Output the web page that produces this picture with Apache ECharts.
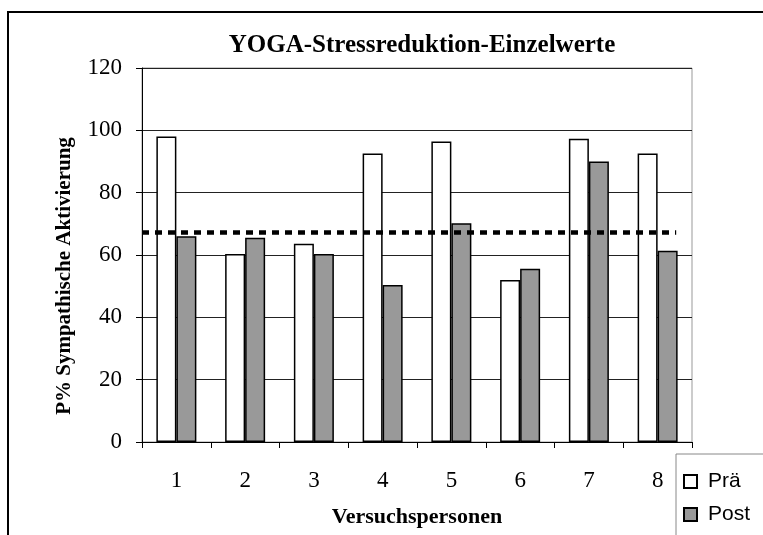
<!DOCTYPE html>
<html>
<head>
<meta charset="utf-8">
<script src="https://cdn.jsdelivr.net/npm/echarts@6/dist/echarts.min.js"></script>
<style>
  html, body { margin: 0; padding: 0; background: #fff; }
  #chart { width: 763px; height: 535px; }
</style>
</head>
<body>
<div id="chart"></div>
<script>
// Versuchspersonen 1..8
const categories = ['1', '2', '3', '4', '5', '6', '7', '8']
const praeValues = [98, 60.3, 63.6, 92.6, 96.4, 52, 97.3, 92.6]
const postValues = [66, 65.5, 60.3, 50.4, 70.2, 55.6, 90, 61.4]
// gestrichelte Referenzlinie (Start/Ende auf der Kategorie-Skala 0..8)
const refLevel = 67.2
const refStart = 0
const refEnd = 7.77
const yTicks = [0, 20, 40, 60, 80, 100, 120]

const serif = 'Liberation Serif'
const sans = 'Liberation Sans'

const chart = echarts.init(document.getElementById('chart'))

chart.setOption({
  animation: false,
  backgroundColor: '#fff',
  title: {
    text: 'YOGA-Stressreduktion-Einzelwerte',
    left: 417,
    top: 28,
    textAlign: 'center',
    textStyle: { fontFamily: serif, fontWeight: 'bold', fontSize: 25, color: '#000' }
  },
  graphic: [
    {
      type: 'rect',
      z: -1,
      shape: { x: 8, y: 12, width: 800, height: 600 },
      style: { fill: 'none', stroke: '#000', lineWidth: 2 }
    },
    {
      // Legendenrahmen
      type: 'rect',
      z: -1,
      shape: { x: 676, y: 454, width: 200, height: 200 },
      style: { fill: '#fff', stroke: '#888', lineWidth: 1 }
    },
    {
      type: 'text',
      x: 65,
      y: 276,
      rotation: Math.PI / 2,
      style: {
        text: 'P% Sympathische Aktivierung',
        fontFamily: serif,
        fontWeight: 'bold',
        fontSize: 21,
        fill: '#000',
        align: 'center',
        verticalAlign: 'middle'
      }
    }
  ],
  legend: {
    data: ['Prä', 'Post'],
    orient: 'vertical',
    left: 683,
    top: 471,
    padding: 0,
    itemGap: 12,
    itemWidth: 13,
    itemHeight: 13,
    icon: 'rect',
    textStyle: { fontFamily: sans, fontSize: 21, color: '#000', padding: [0, 0, 0, 6] }
  },
  grid: {
    left: 142,
    right: 71,
    top: 68,
    bottom: 93,
    show: true,
    borderColor: '#999',
    borderWidth: 1
  },
  xAxis: [
    {
      type: 'category',
      data: categories,
      name: 'Versuchspersonen',
      nameLocation: 'middle',
      nameGap: 64,
      nameTextStyle: { fontFamily: serif, fontWeight: 'bold', fontSize: 22, color: '#000' },
      axisLine: { lineStyle: { color: '#000', width: 1 } },
      axisTick: { show: true, length: 6, lineStyle: { color: '#000' } },
      axisLabel: { margin: 27, fontFamily: serif, fontSize: 23, color: '#000' }
    },
    {
      type: 'value',
      min: 0,
      max: 8,
      show: false
    }
  ],
  yAxis: {
    type: 'value',
    min: yTicks[0],
    max: yTicks[yTicks.length - 1],
    interval: 20,
    axisLine: { show: true, lineStyle: { color: '#000', width: 1 } },
    axisTick: { show: true, length: 6, lineStyle: { color: '#000' } },
    axisLabel: { margin: 20, fontFamily: serif, fontSize: 23, color: '#000' },
    splitLine: { lineStyle: { color: '#222', width: 1 } }
  },
  series: [
    {
      name: 'Prä',
      type: 'bar',
      data: praeValues,
      barWidth: 20,
      barGap: '0%',
      itemStyle: { color: '#fff', borderColor: '#000', borderWidth: 1.5 }
    },
    {
      name: 'Post',
      type: 'bar',
      data: postValues,
      barWidth: 20,
      barGap: '0%',
      itemStyle: { color: '#999999', borderColor: '#000', borderWidth: 1.5 }
    },
    {
      name: 'Referenz',
      type: 'line',
      xAxisIndex: 1,
      data: [[refStart, refLevel], [refEnd, refLevel]],
      symbol: 'none',
      z: 5,
      lineStyle: { color: '#000', width: 4.5, type: [7, 6] }
    }
  ]
})
</script>
</body>
</html>
